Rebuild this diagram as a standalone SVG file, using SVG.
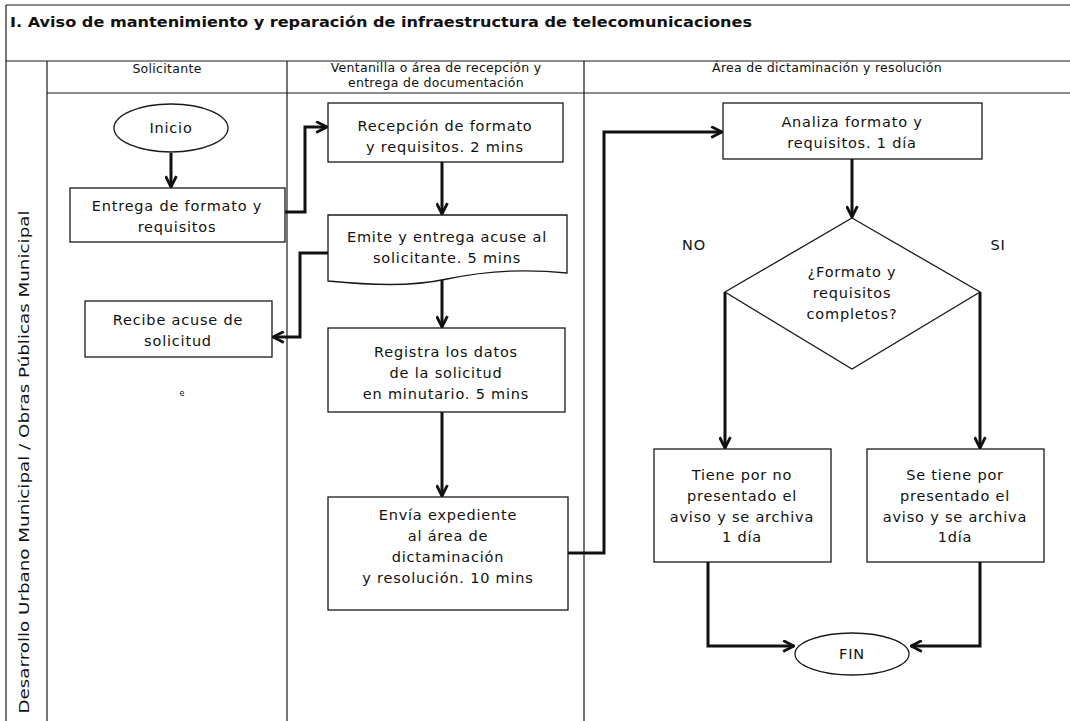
<svg xmlns="http://www.w3.org/2000/svg" width="1070" height="721" viewBox="0 0 1070 721">
<defs>
<style>
.grid{stroke:#1a1a1a;stroke-width:1.2;fill:none}
.shape{fill:#fff;stroke:#1a1a1a;stroke-width:1.3}
.t{font-family:"DejaVu Sans","Liberation Sans",sans-serif;font-size:14.5px;letter-spacing:0.8px;fill:#111;text-anchor:middle}
.h{font-family:"DejaVu Sans","Liberation Sans",sans-serif;font-size:12.5px;letter-spacing:0.3px;fill:#111;text-anchor:middle}
.title{font-family:"DejaVu Sans","Liberation Sans",sans-serif;font-size:13.5px;font-weight:bold;fill:#111}
.c{fill:none;stroke:#111;stroke-width:3;marker-end:url(#ah)}
</style>
<marker id="ah" viewBox="0 0 12 12" refX="11" refY="6" markerWidth="13" markerHeight="13" markerUnits="userSpaceOnUse" orient="auto">
<path d="M1,1 L11,6 L1,11" fill="none" stroke="#111" stroke-width="2.6"/>
</marker>
</defs>
<rect width="1070" height="721" fill="#fff"/>
<g id="frame">
<line class="grid" x1="6" y1="5" x2="1070" y2="5"/>
<line class="grid" x1="6" y1="61" x2="1070" y2="61"/>
<line class="grid" x1="47" y1="93" x2="1070" y2="93"/>
<line class="grid" x1="6" y1="5" x2="6" y2="721"/>
<line class="grid" x1="47" y1="61" x2="47" y2="721"/>
<line class="grid" x1="287" y1="61" x2="287" y2="721"/>
<line class="grid" x1="584" y1="61" x2="584" y2="721"/>
<text class="title" x="10" y="27" textLength="742" lengthAdjust="spacingAndGlyphs">I. Aviso de mantenimiento y reparación de infraestructura de telecomunicaciones</text>
<text class="h" x="167" y="73">Solicitante</text>
<text class="h" x="436" y="72">Ventanilla o área de recepción y</text>
<text class="h" x="436" y="87">entrega de documentación</text>
<text class="h" x="827" y="72">Área de dictaminación y resolución</text>
<text class="h" transform="translate(29,462) rotate(-90)" style="font-size:14px;letter-spacing:0" textLength="503" lengthAdjust="spacingAndGlyphs">Desarrollo Urbano Municipal / Obras Públicas Municipal</text>
<text class="h" x="182" y="396" style="font-size:8px">e</text>
</g>
<g id="connectors">
<path class="c" d="M171,153 V187"/>
<path class="c" d="M285,212 H305 V127 H327"/>
<path class="c" d="M442,162 V214"/>
<path class="c" d="M328,253 H300 V337 H273"/>
<path class="c" d="M442,280 V327"/>
<path class="c" d="M442,412 V496"/>
<path class="c" d="M568,553 H604 V132 H722"/>
<path class="c" d="M852,159 V217"/>
<path class="c" d="M725,292 V448"/>
<path class="c" d="M980,292 V448"/>
<path class="c" d="M708,562 V646 H794"/>
<path class="c" d="M980,562 V646 H911"/>
</g>
<g id="inicio">
<ellipse class="shape" cx="171" cy="128" rx="57" ry="24"/>
<text class="t" x="171" y="133">Inicio</text>
</g>
<g id="entrega">
<rect class="shape" x="70" y="188" width="215" height="54"/>
<text class="t" x="177" y="211">Entrega de formato y</text>
<text class="t" x="177" y="232">requisitos</text>
</g>
<g id="recibe">
<rect class="shape" x="85" y="301" width="187" height="56"/>
<text class="t" x="178" y="325">Recibe acuse de</text>
<text class="t" x="178" y="346">solicitud</text>
</g>
<g id="recepcion">
<rect class="shape" x="328" y="103" width="235" height="59"/>
<text class="t" x="445" y="131">Recepción de formato</text>
<text class="t" x="445" y="152">y requisitos. 2 mins</text>
</g>
<g id="emite">
<path class="shape" d="M328,215 H567 V273 C520,268 480,272 447,279 C410,287 370,285 328,281 Z"/>
<text class="t" x="447" y="242">Emite y entrega acuse al</text>
<text class="t" x="447" y="263">solicitante. 5 mins</text>
</g>
<g id="registra">
<rect class="shape" x="328" y="328" width="237" height="84"/>
<text class="t" x="446" y="357">Registra los datos</text>
<text class="t" x="446" y="378">de la solicitud</text>
<text class="t" x="446" y="399">en minutario. 5 mins</text>
</g>
<g id="envia">
<rect class="shape" x="328" y="497" width="240" height="113"/>
<text class="t" x="448" y="520">Envía expediente</text>
<text class="t" x="448" y="541">al área de</text>
<text class="t" x="448" y="562">dictaminación</text>
<text class="t" x="448" y="583">y resolución. 10 mins</text>
</g>
<g id="analiza">
<rect class="shape" x="723" y="103" width="259" height="56"/>
<text class="t" x="852" y="127">Analiza formato y</text>
<text class="t" x="852" y="148">requisitos. 1 día</text>
</g>
<g id="decision">
<polygon class="shape" points="852,218 980,292 852,369 725,292"/>
<text class="t" x="852" y="277">¿Formato y</text>
<text class="t" x="852" y="298">requisitos</text>
<text class="t" x="852" y="319">completos?</text>
<text class="t" x="694" y="250">NO</text>
<text class="t" x="998" y="250">SI</text>
</g>
<g id="no-presentado">
<rect class="shape" x="654" y="449" width="177" height="113"/>
<text class="t" x="742" y="480">Tiene por no</text>
<text class="t" x="742" y="501">presentado el</text>
<text class="t" x="742" y="522">aviso y se archiva</text>
<text class="t" x="742" y="542">1 día</text>
</g>
<g id="presentado">
<rect class="shape" x="867" y="449" width="177" height="113"/>
<text class="t" x="955" y="480">Se tiene por</text>
<text class="t" x="955" y="501">presentado el</text>
<text class="t" x="955" y="522">aviso y se archiva</text>
<text class="t" x="955" y="542">1día</text>
</g>
<g id="fin">
<ellipse class="shape" cx="852" cy="654" rx="57" ry="21"/>
<text class="t" x="852" y="659">FIN</text>
</g>
</svg>
